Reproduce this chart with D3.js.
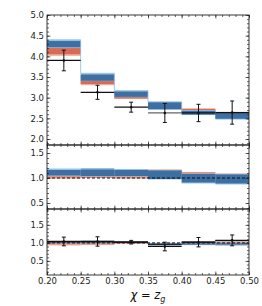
<!DOCTYPE html>
<html>
<head>
<meta charset="utf-8">
<script src="https://cdn.jsdelivr.net/npm/d3@7"></script>
<style>
body { margin: 0; background: #fff; }
svg text { font-family: "DejaVu Sans", sans-serif; }
</style>
</head>
<body>
<div id="chart"></div>
<script>
var width = 262,
    height = 306;

// bin edges and x ticks
var binEdges = [0.20, 0.25, 0.30, 0.35, 0.40, 0.45, 0.50];
var xTicks = [0.20, 0.25, 0.30, 0.35, 0.40, 0.45, 0.50];

// top panel: distributions
var topBlueHi   = [4.40, 3.59, 3.17, 2.90, 2.69, 2.64];
var topBlueLo   = [4.20, 3.40, 3.01, 2.71, 2.58, 2.47];
var topBlueInHi = [4.37, 3.56, 3.15, 2.89, 2.68, 2.63];
var topBlueInLo = [4.22, 3.41, 3.02, 2.72, 2.59, 2.49];
var topRedHi    = [4.22, 3.42, 3.03, 2.80, 2.74, 2.66];
var topRedLo    = [4.01, 3.30, 2.97, 2.72, 2.62, 2.58];
var topRedInHi  = [4.20, 3.41, 3.02, 2.79, 2.73, 2.65];
var topRedInLo  = [4.05, 3.33, 2.98, 2.73, 2.63, 2.59];
var topData     = [3.90, 3.13, 2.77, 2.63, 2.63, 2.64];
var topDataErr  = [0.25, 0.17, 0.12, 0.23, 0.21, 0.28];
var topTicks    = [2.0, 2.5, 3.0, 3.5, 4.0, 4.5, 5.0];

// middle panel: ratio
var midBlueHi   = [1.19, 1.20, 1.18, 1.16, 1.09, 1.08];
var midBlueLo   = [1.04, 1.03, 1.03, 0.97, 0.89, 0.87];
var midBlueInHi = [1.16, 1.17, 1.16, 1.15, 1.08, 1.07];
var midBlueInLo = [1.05, 1.04, 1.04, 0.98, 0.91, 0.89];
var midRedHi    = [1.05, 1.04, 1.04, 1.17, 1.12, 1.09];
var midRedLo    = [0.99, 1.00, 0.99, 1.10, 1.06, 1.04];
var midTicks    = [0.5, 1.0, 1.5];

// bottom panel: ratio to data
var botBlueHi = [1.05, 1.06, 1.05, 1.00, 1.00, 1.00];
var botBlueLo = [0.99, 0.99, 1.00, 0.93, 0.94, 0.93];
var botRedHi  = [1.00, 1.00, 1.02, 0.99, 1.04, 1.03];
var botRedLo  = [0.93, 0.94, 0.97, 0.95, 1.00, 0.98];
var botLine   = [1.03, 1.03, 1.02, 0.95, 1.02, 1.06];
var botData   = [1.04, 1.04, 1.02, 0.90, 1.02, 1.07];
var botErr    = [0.12, 0.13, 0.05, 0.12, 0.13, 0.15];
var botTicks  = [0.5, 1.0, 1.5];

var blueDark = "#386a9e",
    blueLight = "#8dbbe0",
    redDark = "#d5634a",
    redLight = "#f0aa96";

var svg = d3.select("#chart").append("svg")
    .attr("width", width)
    .attr("height", height);

var left = 47, right = 249;

var x = d3.scaleLinear()
    .domain([0.20, 0.50])
    .range([left, right]);

var panels = [
    { top: 15,  bottom: 145, domain: [1.855, 5.0], ticks: topTicks },
    { top: 145, bottom: 209, domain: [0.38, 1.66], ticks: midTicks },
    { top: 209, bottom: 275, domain: [0.11, 1.94], ticks: botTicks }
];

panels.forEach(function(p) {
    p.y = d3.scaleLinear().domain(p.domain).range([p.bottom, p.top]);
});

function binsOf(lo, hi) {
    return lo.map(function(d, i) {
        return { x0: binEdges[i], x1: binEdges[i + 1], lo: d, hi: hi[i] };
    });
}

function drawBand(g, y, lo, hi, color, opacity) {
    g.append("g").selectAll("rect")
        .data(binsOf(lo, hi))
        .enter()
        .append("rect")
        .attr("x", function(d) { return x(d.x0); })
        .attr("width", function(d) { return x(d.x1) - x(d.x0); })
        .attr("y", function(d) { return y(d.hi); })
        .attr("height", function(d) { return y(d.lo) - y(d.hi); })
        .attr("fill", color)
        .attr("opacity", opacity);
}

// light step outline like the fill_between edge
function drawStep(g, y, vals, color) {
    var pts = vals.map(function(v, i) { return [binEdges[i], v]; });
    pts.push([binEdges[binEdges.length - 1], vals[vals.length - 1]]);
    g.append("path")
        .datum(pts)
        .attr("d", d3.line()
            .x(function(d) { return x(d[0]); })
            .y(function(d) { return y(d[1]); })
            .curve(d3.curveStepAfter))
        .attr("fill", "none")
        .attr("stroke", color)
        .attr("stroke-width", 1)
        .attr("opacity", 0.8);
}

function drawPoints(g, y, vals, errs, lineCol) {
    var data = vals.map(function(v, i) {
        return { x0: binEdges[i], x1: binEdges[i + 1], v: v, e: errs[i], i: i };
    });
    var pts = g.append("g");
    pts.selectAll("line.h")
        .data(data).enter()
        .append("line")
        .attr("x1", function(d) { return x(d.x0); })
        .attr("x2", function(d) { return x(d.x1); })
        .attr("y1", function(d) { return y(d.v); })
        .attr("y2", function(d) { return y(d.v); })
        .attr("stroke", function(d) { return lineCol ? lineCol(d) : "#111"; })
        .attr("stroke-width", 1.2);
    pts.selectAll("line.v")
        .data(data).enter()
        .append("line")
        .attr("x1", function(d) { return x((d.x0 + d.x1) / 2); })
        .attr("x2", function(d) { return x((d.x0 + d.x1) / 2); })
        .attr("y1", function(d) { return y(d.v + d.e); })
        .attr("y2", function(d) { return y(d.v - d.e); })
        .attr("stroke", "#111")
        .attr("stroke-width", 1);
    [1, -1].forEach(function(s) {
        pts.selectAll("line.cap" + s)
            .data(data).enter()
            .append("line")
            .attr("x1", function(d) { return x((d.x0 + d.x1) / 2) - 2; })
            .attr("x2", function(d) { return x((d.x0 + d.x1) / 2) + 2; })
            .attr("y1", function(d) { return y(d.v + s * d.e); })
            .attr("y2", function(d) { return y(d.v + s * d.e); })
            .attr("stroke", "#111")
            .attr("stroke-width", 1);
    });
    pts.selectAll("circle")
        .data(data).enter()
        .append("circle")
        .attr("cx", function(d) { return x((d.x0 + d.x1) / 2); })
        .attr("cy", function(d) { return y(d.v); })
        .attr("r", 1.3)
        .attr("fill", "#111");
}

function dashedOne(g, y) {
    g.append("line")
        .attr("x1", left).attr("x2", right)
        .attr("y1", y(1)).attr("y2", y(1))
        .attr("stroke", "#111")
        .attr("stroke-width", 1)
        .attr("stroke-dasharray", "3,2");
}

// ---- top panel
var g0 = svg.append("g"), y0 = panels[0].y;
drawBand(g0, y0, topRedLo, topRedHi, redLight, 0.9);
drawBand(g0, y0, topRedInLo, topRedInHi, redDark, 0.9);
drawBand(g0, y0, topBlueLo, topBlueHi, blueLight, 0.9);
drawBand(g0, y0, topBlueInLo, topBlueInHi, blueDark, 0.95);
drawStep(g0, y0, topBlueHi, blueLight);
drawPoints(g0, y0, topData, topDataErr, function(d) { return d.i == 3 ? "#666" : "#111"; });

// ---- middle panel
var g1 = svg.append("g"), y1 = panels[1].y;
drawBand(g1, y1, midRedLo, midRedHi, redDark, 0.7);
drawBand(g1, y1, midBlueLo, midBlueHi, blueLight, 0.9);
drawBand(g1, y1, midBlueInLo, midBlueInHi, blueDark, 0.95);
dashedOne(g1, y1);

// ---- bottom panel
var g2 = svg.append("g"), y2 = panels[2].y;
drawBand(g2, y2, botRedLo, botRedHi, redDark, 0.6);
drawBand(g2, y2, botBlueLo, botBlueHi, blueDark, 0.8);
dashedOne(g2, y2);
drawPoints(g2, y2, botData, botErr);
g2.append("g").selectAll("line")
    .data(botLine).enter()
    .append("line")
    .attr("x1", function(d, i) { return x(binEdges[i]); })
    .attr("x2", function(d, i) { return x(binEdges[i + 1]); })
    .attr("y1", function(d) { return y2(d); })
    .attr("y2", function(d) { return y2(d); })
    .attr("stroke", "#111")
    .attr("stroke-width", 1);

// ---- axes, ticks on every side pointing inward
var xMinor = d3.range(20, 51).map(function(d) { return d / 100; });

panels.forEach(function(p, k) {
    var yMinor = d3.range(Math.ceil(p.domain[0] * 10), Math.floor(p.domain[1] * 10) + 1)
        .map(function(d) { return d / 10; });

    var ax = svg.append("g").attr("class", "axes");

    ax.append("g")
        .attr("transform", "translate(" + left + ",0)")
        .call(d3.axisLeft(p.y).tickValues(p.ticks).tickSize(-3.5).tickPadding(3)
            .tickFormat(d3.format(".1f")));
    ax.append("g")
        .attr("transform", "translate(" + left + ",0)")
        .call(d3.axisLeft(p.y).tickValues(yMinor).tickSize(-2).tickFormat(""));
    ax.append("g")
        .attr("transform", "translate(" + right + ",0)")
        .call(d3.axisRight(p.y).tickValues(p.ticks).tickSize(-3.5).tickFormat(""));
    ax.append("g")
        .attr("transform", "translate(" + right + ",0)")
        .call(d3.axisRight(p.y).tickValues(yMinor).tickSize(-2).tickFormat(""));

    ax.append("g")
        .attr("transform", "translate(0," + p.bottom + ")")
        .call(d3.axisBottom(x).tickValues(xTicks).tickSize(-3.5).tickPadding(3)
            .tickFormat(k == 2 ? d3.format(".2f") : ""));
    ax.append("g")
        .attr("transform", "translate(0," + p.bottom + ")")
        .call(d3.axisBottom(x).tickValues(xMinor).tickSize(-2).tickFormat(""));
    ax.append("g")
        .attr("transform", "translate(0," + p.top + ")")
        .call(d3.axisTop(x).tickValues(xTicks).tickSize(-3.5).tickFormat(""));
    ax.append("g")
        .attr("transform", "translate(0," + p.top + ")")
        .call(d3.axisTop(x).tickValues(xMinor).tickSize(-2).tickFormat(""));

    ax.selectAll(".domain").remove();

    ax.append("rect")
        .attr("x", left).attr("y", p.top)
        .attr("width", right - left).attr("height", p.bottom - p.top)
        .attr("fill", "none")
        .attr("stroke", "#222")
        .attr("stroke-width", 0.9);
});

svg.selectAll(".axes text")
    .attr("font-size", 8.5)
    .attr("fill", "#222");
svg.selectAll(".axes .tick line")
    .attr("stroke", "#222")
    .attr("stroke-width", 0.7);

// x axis label
var lab = svg.append("text")
    .attr("x", 148)
    .attr("y", 299)
    .attr("text-anchor", "middle")
    .attr("font-size", 11.5)
    .attr("font-style", "italic")
    .attr("fill", "#111");
lab.append("tspan").text("χ = z");
lab.append("tspan").attr("font-size", 8).attr("dy", 2.5).text("g");
</script>
</body>
</html>
